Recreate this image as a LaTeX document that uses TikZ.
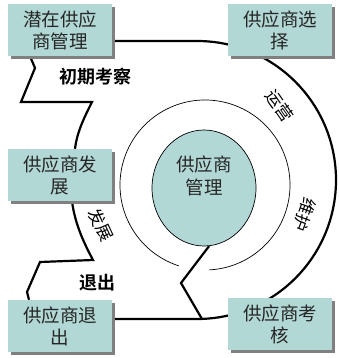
\documentclass[tikz,border=0pt]{standalone}
\usepackage{fontspec}
\newfontfamily\cjk{Noto Sans CJK SC}[BoldFont={Noto Sans CJK SC Bold}]
\usetikzlibrary{shadows,shapes.geometric}
\pgfdeclarelayer{background}
\pgfsetlayers{background,main}
\definecolor{boxfill}{HTML}{B2D8D6}
\definecolor{shadowgray}{HTML}{808080}
\begin{document}
\begin{tikzpicture}[x=1pt,y=-1pt,
  stagebox/.style={fill=boxfill, minimum width=104pt, minimum height=52pt, inner sep=0pt,
    align=center, font=\cjk\fontsize{18.5}{22}\selectfont, text=black!85,
    drop shadow={shadow xshift=3pt, shadow yshift=-3pt, fill=shadowgray, opacity=1}},
  link/.style={line width=2.2pt, line join=miter},
  ring/.style={line width=0.7pt},
  stagelabel/.style={font=\cjk\bfseries\fontsize{18}{20}\selectfont},
  arclabel/.style={font=\cjk\fontsize{17}{20}\selectfont}]
\useasboundingbox (0,0) rectangle (338,358);

\node[stagebox] (A) at (60,30) {潜在供应\\商管理};
\node[stagebox] (B) at (280,30) {供应商选\\择};
\node[stagebox] (C) at (60,175) {供应商发\\展};
\node[stagebox] (D) at (60,326) {供应商退\\出};
\node[stagebox] (E) at (280,324) {供应商考\\核};

\node[ellipse, draw, ring, fill=boxfill, minimum width=104pt, minimum height=116pt, inner sep=0pt] (M) at (204,188) {};
\node[font=\cjk\fontsize{18.5}{23}\selectfont, text=black!85, align=center] (Mt) at (204,176) {供应商\\管理};

\coordinate (O) at (205,185);
\draw[ring] ([shift={(108:85)}]O) arc[start angle=108, end angle=447, radius=85];

\coordinate (J) at (202,319);

\begin{pgfonlayer}{background}
\draw[link] (A.east |- 0,41) -- (197,41) arc[start angle=-90, end angle=90, radius=139] -- (D.east |- 0,319);
\draw[link] (30,0 |- A.south) -- (35,68) -- (21,102) -- (92,102) .. controls (84,118) and (77,132) .. (75,0 |- C.north);
\draw[link] (72,0 |- C.south) .. controls (75,225) and (85,245) .. (93,260) -- (40,262) -- (27,292) -- (29,0 |- D.north);
\draw[link] (M.-85) -- (181,283) -- (J);
\end{pgfonlayer}

\node[stagelabel] (L1) at (95,77) {初期考察};
\node[stagelabel] (L2) at (97,283) {退出};
\node[arclabel, rotate=-55] (L3) at (280,106) {运营};
\node[arclabel, rotate=-110] (L4) at (305,215) {维护};
\node[arclabel, rotate=-65] (L5) at (101,225) {发展};
\end{tikzpicture}
\end{document}
